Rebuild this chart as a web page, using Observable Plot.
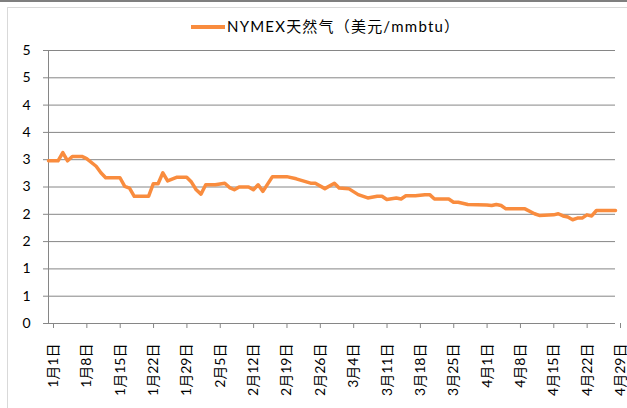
<!DOCTYPE html>
<html>
<head>
<meta charset="utf-8">
<script src="https://cdn.jsdelivr.net/npm/d3@7"></script>
<script src="https://cdn.jsdelivr.net/npm/@observablehq/plot@0.6"></script>
<style>
  html, body { margin: 0; padding: 0; background: #fff; overflow: hidden; }
  #wrap { position: relative; width: 627px; height: 408px; overflow: hidden; font-family: Lato, "Noto Sans CJK SC", sans-serif; }
  #topbar { position: absolute; left: 0; top: 0; width: 627px; height: 2px; background: #7f7f7f; }
  #frame { position: absolute; left: 7px; top: 7px; width: 660px; height: 440px; border: 1px solid #d9d9d9; }
  #legend { position: absolute; left: 0; top: 0; width: 627px; height: 40px; }
  #legend .sw { position: absolute; left: 191px; top: 25px; width: 34px; height: 4px; background: #F98C3E; }
  #legend .tx { position: absolute; left: 227px; top: 16px; font-size: 15px; letter-spacing: 1.2px; line-height: 20px; color: #000; white-space: nowrap; }
  #chart { position: absolute; left: 0; top: 40px; }
</style>
</head>
<body>
<div id="wrap">
  <div id="topbar"></div>
  <div id="frame"></div>
  <div id="legend"><div class="sw"></div><div class="tx">NYMEX天然气（美元/mmbtu）</div></div>
  <div id="chart"></div>
</div>
<script>
const seriesName = "NYMEX天然气（美元/mmbtu）";
const dates = [
  "2012-01-01","2012-01-03","2012-01-04","2012-01-05","2012-01-06","2012-01-08","2012-01-09","2012-01-11",
  "2012-01-12","2012-01-13","2012-01-16","2012-01-17","2012-01-18","2012-01-19","2012-01-22","2012-01-23",
  "2012-01-24","2012-01-25","2012-01-26","2012-01-28","2012-01-30","2012-01-31","2012-02-01","2012-02-02",
  "2012-02-03","2012-02-05","2012-02-07","2012-02-08","2012-02-09","2012-02-10","2012-02-12","2012-02-13",
  "2012-02-14","2012-02-15","2012-02-17","2012-02-20","2012-02-22","2012-02-25","2012-02-26","2012-02-28",
  "2012-03-01","2012-03-02","2012-03-04","2012-03-06","2012-03-08","2012-03-10","2012-03-11","2012-03-12",
  "2012-03-14","2012-03-15","2012-03-16","2012-03-18","2012-03-20","2012-03-21","2012-03-22","2012-03-25",
  "2012-03-26","2012-03-27","2012-03-29","2012-04-02","2012-04-03","2012-04-04","2012-04-05","2012-04-06",
  "2012-04-10","2012-04-12","2012-04-13","2012-04-16","2012-04-17","2012-04-18","2012-04-19","2012-04-20",
  "2012-04-21","2012-04-22","2012-04-23","2012-04-24","2012-04-25","2012-04-29"
];
const prices = [
  2.98,2.98,3.13,2.98,3.06,3.06,3.02,2.88,
  2.76,2.67,2.67,2.51,2.48,2.33,2.33,2.56,
  2.56,2.76,2.61,2.68,2.68,2.59,2.45,2.37,
  2.54,2.54,2.57,2.49,2.45,2.50,2.50,2.45,
  2.54,2.42,2.69,2.69,2.65,2.57,2.57,2.47,
  2.57,2.48,2.47,2.36,2.30,2.33,2.33,2.27,
  2.30,2.28,2.34,2.34,2.36,2.36,2.28,2.28,
  2.22,2.22,2.18,2.17,2.16,2.18,2.16,2.10,
  2.10,2.01,1.98,1.99,2.01,1.97,1.95,1.90,
  1.93,1.93,1.99,1.97,2.07,2.07
];
const xTickDates = ["2012-01-01","2012-01-08","2012-01-15","2012-01-22","2012-01-29","2012-02-05","2012-02-12","2012-02-19","2012-02-26","2012-03-04","2012-03-11","2012-03-18","2012-03-25","2012-04-01","2012-04-08","2012-04-15","2012-04-22","2012-04-29"];
const xTickLabels = ["1月1日","1月8日","1月15日","1月22日","1月29日","2月5日","2月12日","2月19日","2月26日","3月4日","3月11日","3月18日","3月25日","4月1日","4月8日","4月15日","4月22日","4月29日"];
const yTickValues = [0,0.5,1,1.5,2,2.5,3,3.5,4,4.5,5];
const yTickLabels = ["0","1","1","2","2","3","3","4","4","5","5"];

const data = dates.map((d, i) => ({date: new Date(d), price: prices[i]}));
const xTicks = xTickDates.map(d => new Date(d));
const gray = "#868686";

const chart = Plot.plot({
  width: 627,
  height: 368,
  marginTop: 10,
  marginBottom: 85,
  marginLeft: 48,
  marginRight: 12,
  style: {fontFamily: 'Lato, "Noto Sans CJK SC", sans-serif', fontSize: "14px", color: "#000", background: "transparent"},
  x: {type: "utc", domain: [xTicks[0], xTicks[xTicks.length - 1]]},
  y: {domain: [0, 5]},
  marks: [
    Plot.gridY(yTickValues.filter(v => v > 0), {stroke: gray, strokeOpacity: 1, strokeWidth: 1}),
    Plot.ruleY([0], {stroke: gray, strokeWidth: 1}),
    Plot.ruleX([xTicks[0]], {stroke: gray, strokeWidth: 1}),
    Plot.axisY(yTickValues, {tickFormat: (d, i) => yTickLabels[i], tickSize: 5, tickPadding: 13, stroke: gray, fontSize: 14, label: null}),
    Plot.axisX(xTicks, {tickFormat: (d, i) => xTickLabels[i], tickSize: 5, tickPadding: 15, tickRotate: -90, stroke: gray, fontSize: 14, dx: 5, label: null}),
    Plot.line(data, {x: "date", y: "price", stroke: "#F98C3E", strokeWidth: 3.5, strokeLinejoin: "round", strokeLinecap: "round"})
  ]
});
document.getElementById("chart").appendChild(chart);
</script>
</body>
</html>
